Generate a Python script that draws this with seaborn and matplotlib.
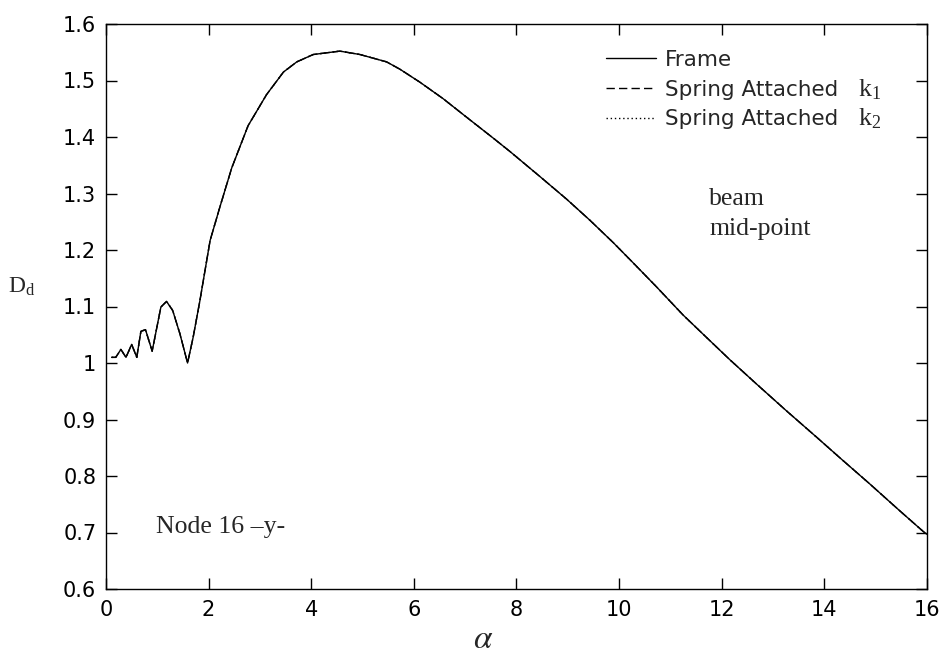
import numpy as np
import pandas as pd
import matplotlib
matplotlib.use("Agg")
import matplotlib.pyplot as plt
import seaborn as sns

# ---- data ----
alpha = [0.11, 0.19, 0.29, 0.39, 0.50, 0.60, 0.68, 0.77, 0.90, 1.07, 1.18, 1.30,
         1.44, 1.59, 1.70, 1.83, 2.03, 2.22, 2.45, 2.77, 3.13, 3.46, 3.72, 4.04,
         4.56, 4.95, 5.47, 5.73, 6.12, 6.57, 7.10, 7.55, 7.88, 8.46, 8.98, 9.43,
         9.89, 10.28, 10.73, 11.25, 11.71, 12.16, 12.68, 13.27, 13.85, 14.31,
         14.89, 15.48, 15.93, 16.0]
frame = [1.010, 1.010, 1.024, 1.010, 1.033, 1.010, 1.056, 1.059, 1.021, 1.099,
         1.109, 1.093, 1.052, 1.000, 1.046, 1.110, 1.217, 1.276, 1.345, 1.420,
         1.475, 1.515, 1.533, 1.546, 1.552, 1.546, 1.533, 1.520, 1.497, 1.468,
         1.430, 1.398, 1.374, 1.330, 1.290, 1.253, 1.213, 1.177, 1.135, 1.085,
         1.045, 1.006, 0.963, 0.915, 0.869, 0.832, 0.786, 0.738, 0.702, 0.697]
# the spring-attached curves coincide with the frame curve in the figure
spring_k1 = list(frame)
spring_k2 = list(frame)
series_names = ["Frame", "Spring Attached", "Spring Attached "]
xticks = [0, 2, 4, 6, 8, 10, 12, 14, 16]
yticks = [0.6, 0.7, 0.8, 0.9, 1.0, 1.1, 1.2, 1.3, 1.4, 1.5, 1.6]
ytick_labels = ["0.6", "0.7", "0.8", "0.9", "1", "1.1", "1.2", "1.3", "1.4", "1.5", "1.6"]

df = pd.DataFrame({
    "alpha": alpha * 3,
    "D": frame + spring_k1 + spring_k2,
    "series": [series_names[0]] * len(alpha) + [series_names[1]] * len(alpha)
              + [series_names[2]] * len(alpha),
})

sns.set_style("white")
plt.rcParams["font.family"] = ["DejaVu Sans"]

W, H = 941, 654
fig = plt.figure(figsize=(W / 100, H / 100), dpi=100)
L, R, T, B = 106, 926.7, 24, 589
ax = fig.add_axes([L / W, 1 - B / H, (R - L) / W, (B - T) / H])

sns.lineplot(data=df, x="alpha", y="D", hue="series", style="series",
             palette=["black", "black", "black"],
             dashes=[(None, None), (6, 3), (1, 2)],
             linewidth=1.0, ax=ax, legend=True, estimator=None, sort=False)

ax.set_xlim(0, 16)
ax.set_ylim(0.6, 1.6)
ax.set_xticks(xticks)
ax.set_xticklabels([str(t) for t in xticks])
ax.set_yticks(yticks)
ax.set_yticklabels(ytick_labels)
ax.set_xlabel("")
ax.set_ylabel("")
ax.tick_params(direction="in", length=8, width=1.0, colors="black",
               labelsize=15, top=True, right=True, bottom=True, left=True)
ax.tick_params(axis="x", pad=8)
ax.tick_params(axis="y", pad=7)
for s in ax.spines.values():
    s.set_visible(True)
    s.set_color("black")
    s.set_linewidth(1.0)

# legend
handles, labels = ax.get_legend_handles_labels()
leg = ax.legend(handles, ["Frame", "Spring Attached", "Spring Attached"],
                loc="upper left",
                bbox_to_anchor=((606 - L) / (R - L), (B - 50) / (B - T)),
                frameon=False, fontsize=15.5, handlelength=2.3,
                handletextpad=0.45, labelspacing=0.45, borderpad=0,
                borderaxespad=0)
for line in leg.get_lines():
    line.set_linewidth(1.0)

serif = ["Liberation Serif", "DejaVu Serif"]
def px(xp, yp):
    return (xp / W, 1 - yp / H)

fig.text(*px(870, 90), r"$\mathregular{k_1}$", family=serif, fontsize=18.5,
         ha="center", va="center")
fig.text(*px(870, 119), r"$\mathregular{k_2}$", family=serif, fontsize=18.5,
         ha="center", va="center")

fig.text(*px(709, 205), "beam", family=serif, fontsize=18.5, ha="left", va="baseline")
fig.text(*px(709, 235), "mid-point", family=serif, fontsize=18.5, ha="left", va="baseline")
fig.text(*px(156, 533), "Node 16 \u2013y-", family=serif, fontsize=18.5,
         ha="left", va="baseline")
fig.text(*px(22, 287), r"$\mathregular{D_d}$", family=serif, fontsize=17,
         ha="center", va="center")

fig.text(*px(483, 638), r"$\alpha$", fontsize=24, ha="center", va="center",
         math_fontfamily="stix")

fig.savefig("out.png", dpi=100)
